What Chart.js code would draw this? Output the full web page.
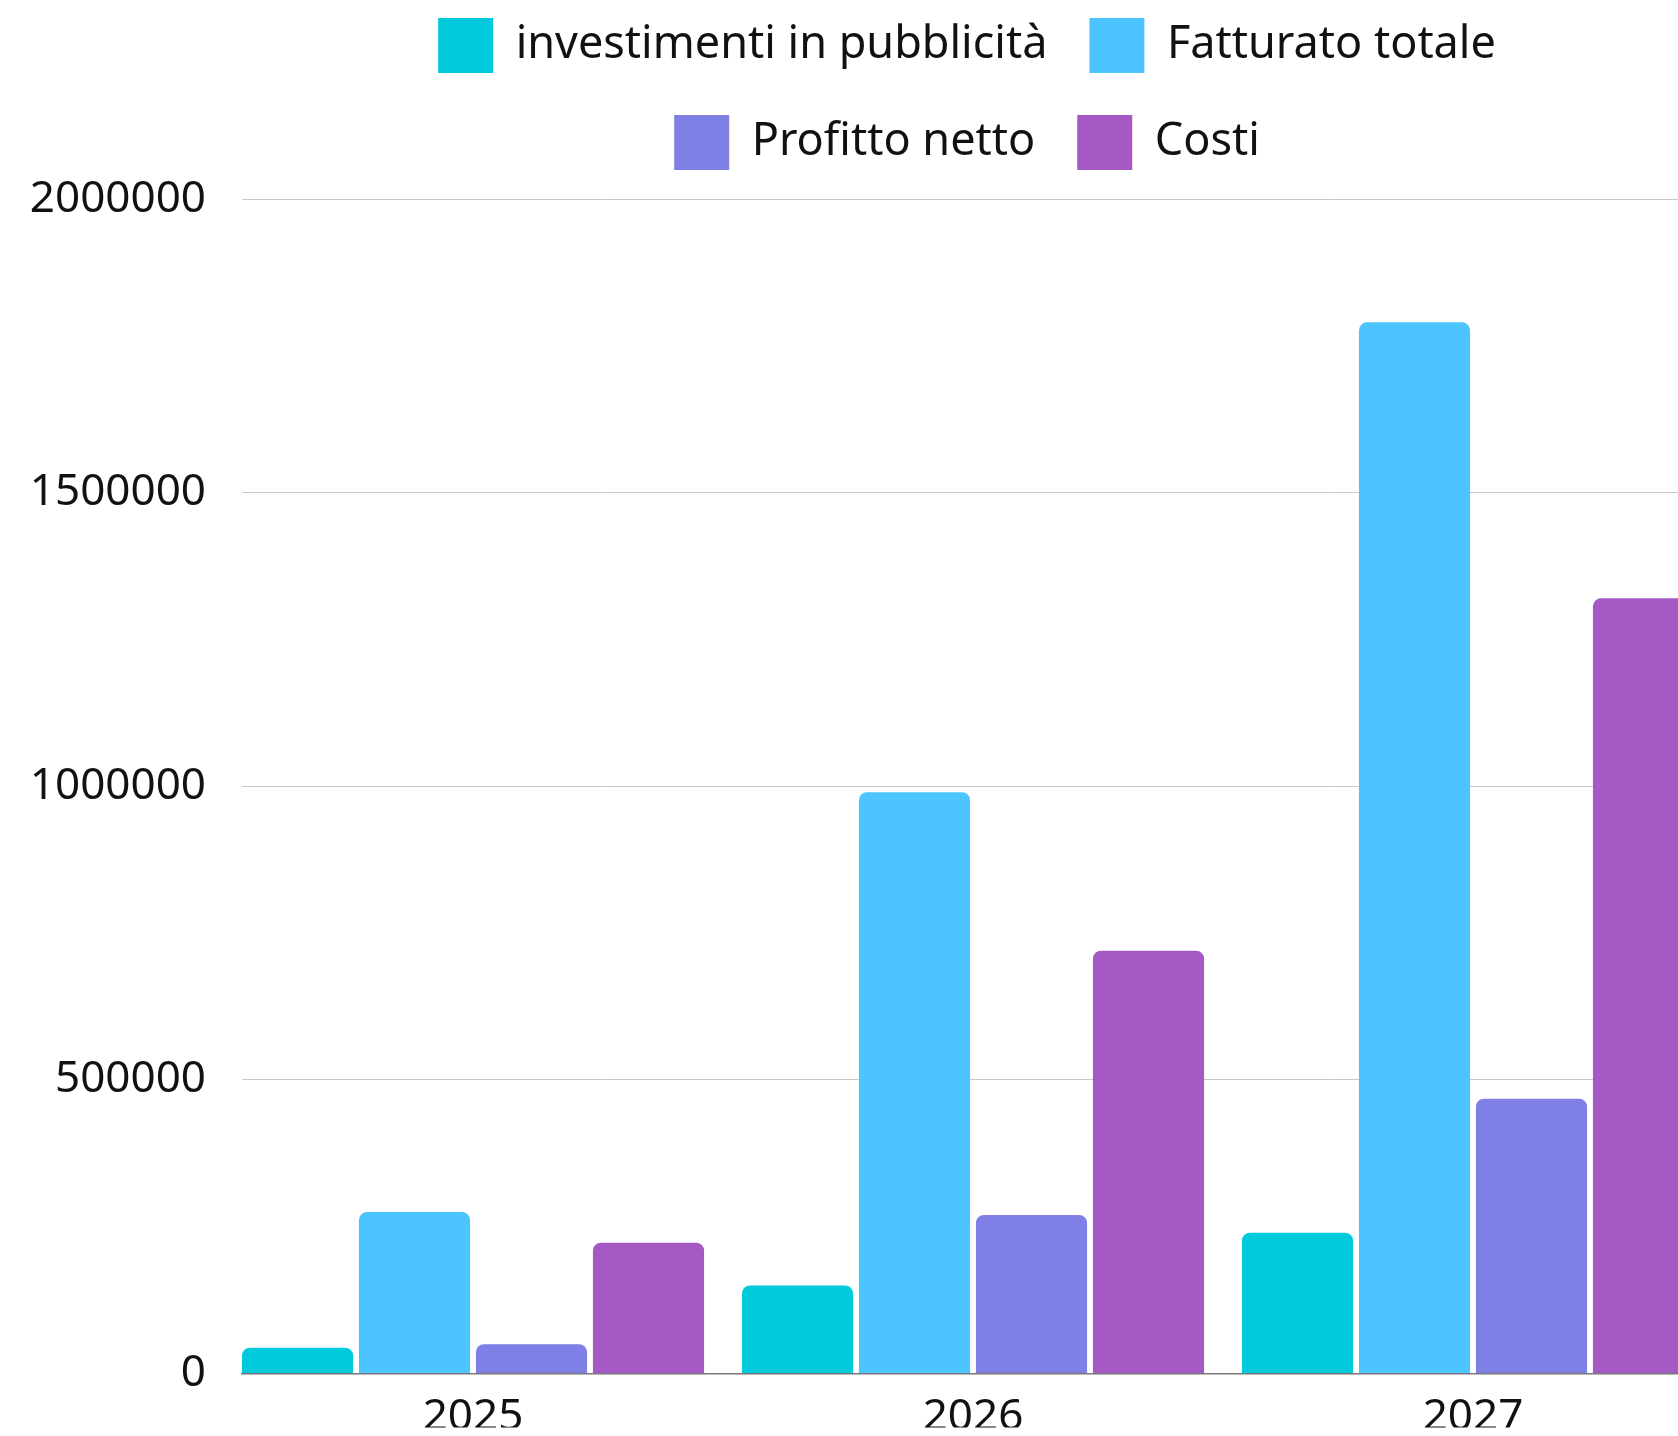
<!DOCTYPE html>
<html>
<head>
<meta charset="utf-8">
<script src="https://cdn.jsdelivr.net/npm/chart.js@4.4.1/dist/chart.umd.min.js"></script>
<style>
    html, body { margin: 0; padding: 0; overflow: hidden; background: #fff; }
    #wrap { position: absolute; left: 0; top: 0; width: 1700px; height: 1436px; }
</style>
</head>
<body>
<div id="wrap"><canvas id="chart"></canvas></div>
<script>
const years = [2025, 2026, 2027];
const seriesNames = ['investimenti in pubblicità', 'Fatturato totale', 'Profitto netto', 'Costi'];
const investimenti = [44000, 150000, 240000];
const fatturato = [275000, 990000, 1790000];
const profitto = [50000, 270000, 468000];
const costi = [223000, 720000, 1320000];
const yTicks = [0, 500000, 1000000, 1500000, 2000000];
const colors = ['#00cadb', '#4bc4ff', '#7f80e6', '#a459c4'];

const font = {family: "'Noto Sans', sans-serif", size: 44};

const toPoints = arr => years.map((x, i) => ({x, y: arr[i]}));

// legend needs a bit more room below it than chart.js gives
const legendSpacer = {
    id: 'legendSpacer',
    beforeInit(chart) {
        const fit = chart.legend.fit;
        chart.legend.fit = function () {
            fit.call(this);
            this.height += 19;
        };
    }
};

const datasets = [investimenti, fatturato, profitto, costi].map((arr, i) => ({
    label: seriesNames[i],
    data: toPoints(arr),
    backgroundColor: colors[i],
    borderWidth: 0,
    borderRadius: 8,
    categoryPercentage: 0.936,
    barPercentage: 0.95
}));

new Chart(document.getElementById('chart'), {
    type: 'bar',
    data: {datasets},
    plugins: [legendSpacer],
    options: {
        responsive: true,
        maintainAspectRatio: false,
        animation: false,
        layout: {padding: {top: -24, right: 8, bottom: 0, left: 0}},
        plugins: {
            legend: {
                position: 'top',
                fullSize: false,
                labels: {
                    font: {family: font.family, size: 45},
                    color: '#111',
                    boxWidth: 55,
                    boxHeight: 55,
                    padding: 42
                }
            },
            tooltip: {enabled: false}
        },
        scales: {
            x: {
                type: 'linear',
                offset: false,
                min: 2024.538,
                max: 2027.438,
                grid: {display: false},
                border: {display: true, color: '#777', width: 1.5},
                afterBuildTicks: s => { s.ticks = years.map(v => ({value: v})); },
                afterFit: s => { s.height = 54; },
                ticks: {
                    font,
                    color: '#111',
                    padding: 9,
                    maxRotation: 0,
                    autoSkip: false,
                    callback: v => String(v)
                }
            },
            y: {
                min: 0,
                max: 2000000,
                grid: {color: '#c8c8c8', lineWidth: 1, drawTicks: false},
                border: {display: false},
                afterBuildTicks: s => { s.ticks = yTicks.map(v => ({value: v})); },
                afterFit: s => { s.width = 242; },
                ticks: {
                    font,
                    color: '#111',
                    padding: 36,
                    callback: v => String(v)
                }
            }
        }
    }
});
</script>
</body>
</html>
